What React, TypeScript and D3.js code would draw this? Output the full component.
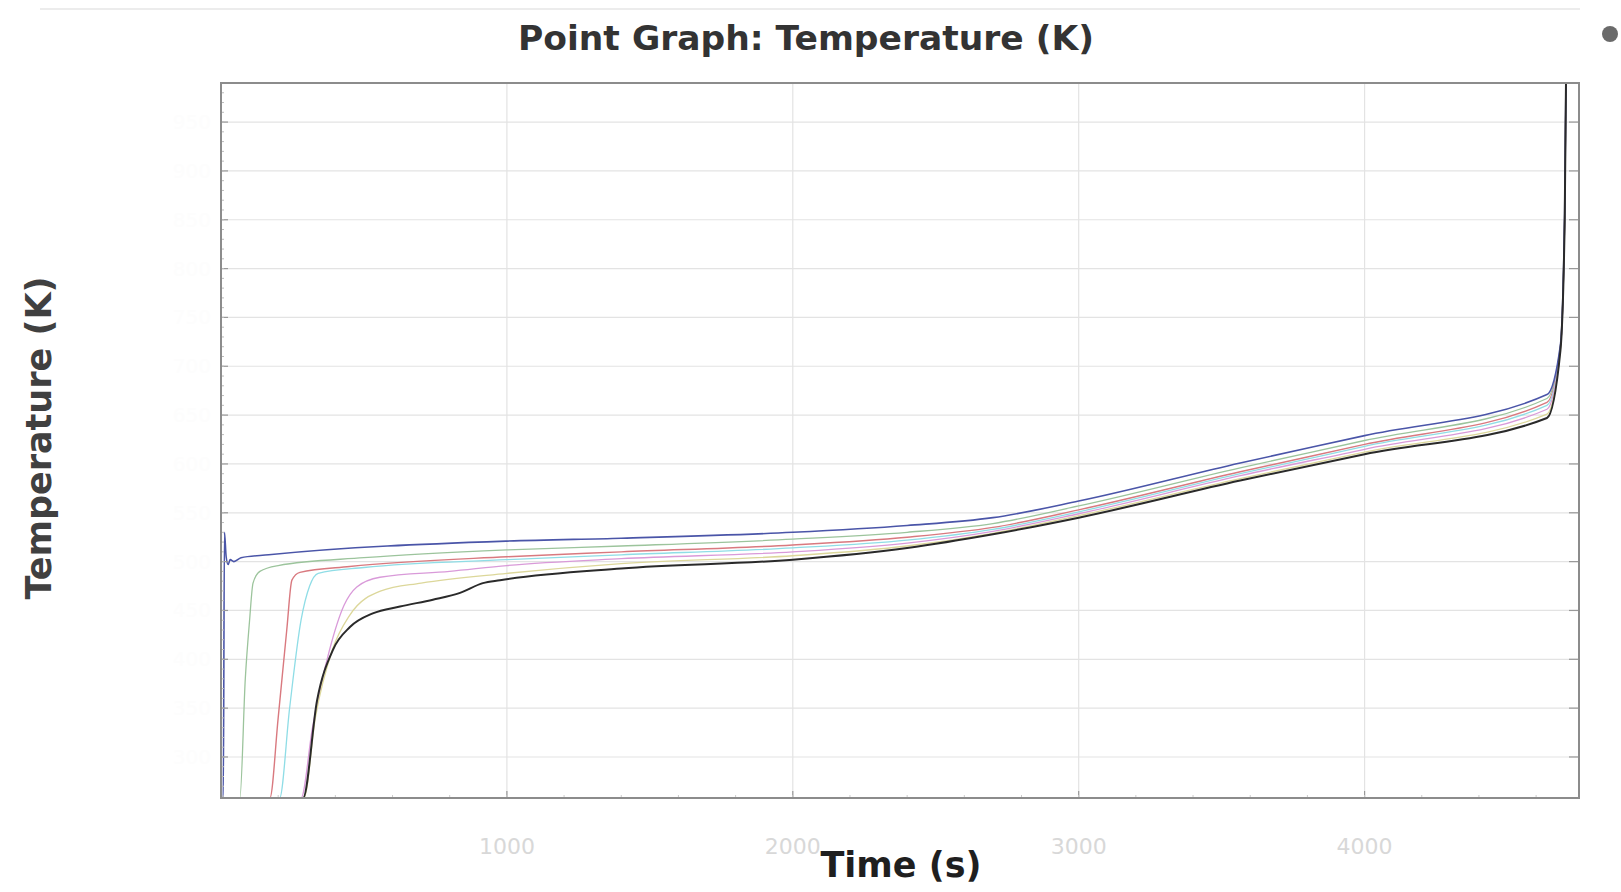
import React from 'react';
import * as d3 from 'd3';

// canvas + plot box
const width = 1621;
const height = 892;
const margin = { top: 83, right: 42, bottom: 94, left: 221 };

// axis values (time in s, temperature in K)
const timeDomain = [0, 4750];
const tempDomain = [258, 990];
const timeTicks = [1000, 2000, 3000, 4000];
const tempTicks = [300, 350, 400, 450, 500, 550, 600, 650, 700, 750, 800, 850, 900, 950];

// one [time, temperature] list per probe point
const point1: [number, number][] = [
  [0, 258], [8, 258], [12, 530], [18, 505], [25, 497], [32, 502], [45, 500], [70, 504],
  [167, 507], [1000, 521], [1400, 524], [2000, 530], [2400, 537], [2700, 545], [3000, 562],
  [3565, 601], [4000, 629], [4638, 671], [4685, 722], [4700, 860], [4708, 1100],
];
const point2: [number, number][] = [
  [0, 258], [66, 258], [85, 380], [100, 440], [112, 478], [136, 490], [200, 496], [500, 504],
  [1000, 512], [1400, 516], [2000, 523], [2400, 530], [2700, 539], [3000, 557], [3565, 596],
  [4000, 624], [4638, 667], [4685, 721], [4700, 858], [4708, 1100],
];
const point3: [number, number][] = [
  [0, 258], [171, 258], [200, 340], [230, 430], [248, 481], [276, 489], [450, 495],
  [1000, 505], [1400, 510], [2000, 517], [2400, 525], [2700, 535], [3000, 553], [3565, 592],
  [4000, 620], [4638, 663], [4685, 720], [4700, 856], [4708, 1100],
];
const point4: [number, number][] = [
  [0, 258], [205, 258], [240, 350], [280, 440], [310, 475], [340, 488], [500, 494],
  [1000, 502], [1400, 507], [2000, 514], [2400, 522], [2700, 533], [3000, 551], [3565, 590],
  [4000, 618], [4638, 660], [4685, 719], [4700, 855], [4708, 1100],
];
const point5: [number, number][] = [
  [0, 258], [280, 258], [320, 330], [380, 410], [430, 455], [475, 474], [556, 484], [800, 490],
  [1000, 496], [1400, 503], [2000, 510], [2400, 519], [2700, 531], [3000, 549], [3565, 588],
  [4000, 615], [4638, 656], [4685, 718], [4700, 854], [4708, 1100],
];
const point6: [number, number][] = [
  [0, 258], [290, 258], [330, 340], [390, 410], [450, 445], [560, 470], [700, 478], [1000, 488],
  [1400, 498], [2000, 506], [2400, 516], [2700, 529], [3000, 547], [3565, 585], [4000, 612],
  [4638, 651], [4685, 717], [4700, 852], [4708, 1100],
];
const point7: [number, number][] = [
  [0, 258], [287, 258], [336, 358], [392, 410], [451, 433], [531, 447], [626, 454], [741, 461],
  [836, 468], [916, 478], [976, 481], [1400, 493], [2000, 502], [2400, 514], [2700, 528],
  [3000, 545], [3565, 583], [4000, 610], [4638, 647], [4685, 716], [4700, 850], [4708, 1100],
];

// draw order: pale ones first, blue and black on top
const series = [
  { data: point2, color: '#9cc49c', w: 1.3 },
  { data: point3, color: '#d9797f', w: 1.4 },
  { data: point4, color: '#8fdde6', w: 1.3 },
  { data: point5, color: '#d99ad9', w: 1.3 },
  { data: point6, color: '#dcd79a', w: 1.3 },
  { data: point1, color: '#4a55a8', w: 1.6 },
  { data: point7, color: '#2a2a2a', w: 2 },
];

const App = () => {
  const x0 = margin.left;
  const x1 = width - margin.right;
  const y0 = height - margin.bottom;
  const y1 = margin.top;

  const x = d3.scaleLinear().domain(timeDomain).range([x0, x1]);
  const y = d3.scaleLinear().domain(tempDomain).range([y0, y1]);

  const line = d3.line<[number, number]>()
    .x(d => x(d[0]))
    .y(d => y(d[1]))
    .curve(d3.curveMonotoneX);

  const minorTemp = d3.range(260, 990, 10);
  const minorTime = d3.range(200, 4750, 200);

  return (
    <svg
      width={width}
      height={height}
      style={{ position: 'absolute', left: 0, top: 0, background: '#fff' }}
      fontFamily="DejaVu Sans"
    >
      <defs>
        <clipPath id="plot-clip">
          <rect x={x0} y={y1} width={x1 - x0} height={y0 - y1} />
        </clipPath>
      </defs>

      <line x1={40} x2={1580} y1={9} y2={9} stroke="#ececec" strokeWidth={2} />

      {/* grid */}
      {tempTicks.map(t => (
        <line key={'gy' + t} x1={x0} x2={x1} y1={y(t)} y2={y(t)} stroke="#e3e3e3" strokeWidth={1.2} />
      ))}
      {timeTicks.map(t => (
        <line key={'gx' + t} x1={x(t)} x2={x(t)} y1={y1} y2={y0} stroke="#e3e3e3" strokeWidth={1.2} />
      ))}

      {/* curves */}
      <g clipPath="url(#plot-clip)">
        {series.map((s, i) => (
          <path key={i} d={line(s.data) || ''} fill="none" stroke={s.color} strokeWidth={s.w} />
        ))}
      </g>

      {/* ticks */}
      {tempTicks.map(t => (
        <g key={'ty' + t}>
          <line x1={x0} x2={x0 + 7} y1={y(t)} y2={y(t)} stroke="#999" strokeWidth={1.2} />
          <line x1={x1} x2={x1 - 10} y1={y(t)} y2={y(t)} stroke="#999" strokeWidth={1.2} />
        </g>
      ))}
      {minorTemp.map(t => (
        <line key={'my' + t} x1={x0} x2={x0 + 3} y1={y(t)} y2={y(t)} stroke="#bbb" strokeWidth={1} />
      ))}
      {timeTicks.map(t => (
        <line key={'tx' + t} x1={x(t)} x2={x(t)} y1={y0} y2={y0 - 7} stroke="#999" strokeWidth={1.2} />
      ))}
      {minorTime.map(t => (
        <line key={'mx' + t} x1={x(t)} x2={x(t)} y1={y0} y2={y0 - 3} stroke="#ccc" strokeWidth={1} />
      ))}

      {/* frame */}
      <rect x={x0} y={y1} width={x1 - x0} height={y0 - y1} fill="none" stroke="#8c8c8c" strokeWidth={2} />

      {/* faint tick labels */}
      {timeTicks.map(t => (
        <text key={'lx' + t} x={x(t)} y={854} textAnchor="middle" fontSize={22} fill="#d8d8d8">
          {t}
        </text>
      ))}
      {tempTicks.map(t => (
        <text key={'ly' + t} x={x0 - 10} y={y(t) + 7} textAnchor="end" fontSize={20} fill="#fdfdfd">
          {t}
        </text>
      ))}

      {/* titles */}
      <text x={806} y={50} textAnchor="middle" fontSize={34.5} fontWeight="bold" fill="#333">
        Point Graph: Temperature (K)
      </text>
      <text x={901} y={877} textAnchor="middle" fontSize={35} fontWeight="bold" fill="#1f1f1f">
        Time (s)
      </text>
      <text
        transform="translate(51,438) rotate(-90)"
        textAnchor="middle"
        fontSize={35}
        fontWeight="bold"
        fill="#404040"
      >
        Temperature (K)
      </text>

      {/* little toolbar glyph at the top right */}
      <circle cx={1610} cy={34} r={8} fill="#6a6a6a" />
    </svg>
  );
};

export default App;
